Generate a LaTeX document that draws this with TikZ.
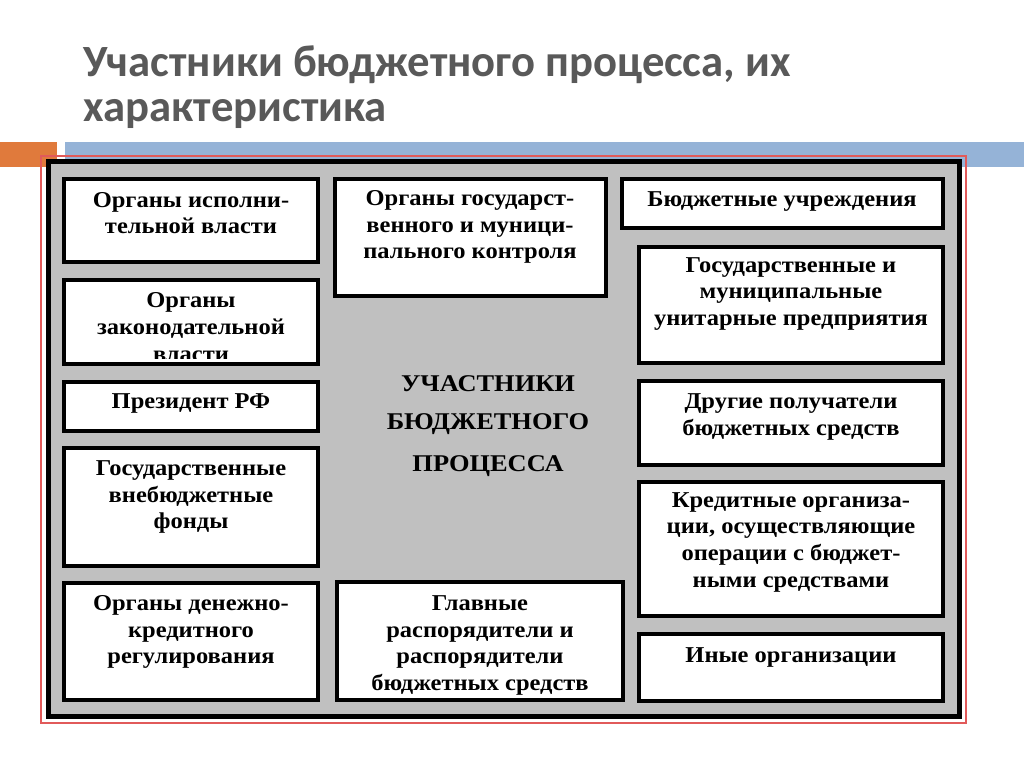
\documentclass[tikz,border=0pt]{standalone}
\usepackage{fontspec}
\setmainfont{Liberation Serif}
\newfontfamily\boxfont[FakeStretch=1.08]{Liberation Serif}
\newfontfamily\centerfont[FakeStretch=1.1]{Liberation Serif}
\newfontfamily\titlefont{Carlito}
\usetikzlibrary{fit}
\definecolor{slgray}{RGB}{192,192,192}
\definecolor{orangebar}{RGB}{224,122,60}
\definecolor{bluebar}{RGB}{149,179,215}
\definecolor{titlegray}{RGB}{89,89,89}
\definecolor{framered}{RGB}{225,90,90}
\begin{document}
\begin{tikzpicture}[x=0.75pt,y=-0.75pt,
  bx/.style={draw=black, line width=3pt, fill=white, inner sep=0pt},
  txt/.style={font=\boxfont\bfseries\fontsize{17}{20}\selectfont, align=center, inner sep=0pt},
  ctxt/.style={font=\centerfont\bfseries\fontsize{18}{20}\selectfont, inner sep=0pt},
  ttl/.style={font=\titlefont\bfseries\fontsize{33.5}{34}\selectfont, text=titlegray, inner sep=0pt, anchor=base west}]
\useasboundingbox (0,0) rectangle (1024,767);
\fill[white] (0,0) rectangle (1024,767);
% title
\node[ttl] (t1) at (83,77) {Участники бюджетного процесса, их};
\node[ttl] (t2) at (83,121) {характеристика};
% bars
\fill[orangebar] (0,142) rectangle (57,167);
\fill[bluebar] (65,142) rectangle (1024,167);
% frames
\draw[framered, line width=0.9pt] (41,156) rectangle (966,723);
\draw[black, fill=slgray, line width=3.4pt] (48.5,161.5) rectangle (959.5,716.5);
% boxes
\node[bx, fit={(64,179) (318,262)}] (b1) {};
\node[bx, fit={(64,280) (318,364)}] (b2) {};
\node[bx, fit={(64,382) (318,431)}] (b3) {};
\node[bx, fit={(64,448) (318,566)}] (b4) {};
\node[bx, fit={(64,583) (318,700)}] (b5) {};
\node[bx, fit={(335,179) (606,296)}] (b6) {};
\node[bx, fit={(337,582) (623,700)}] (b7) {};
\node[bx, fit={(622,179) (943,228)}] (b8) {};
\node[bx, fit={(639,247) (943,363)}] (b9) {};
\node[bx, fit={(639,381) (943,465)}] (b10) {};
\node[bx, fit={(639,482) (943,616)}] (b11) {};
\node[bx, fit={(639,634) (943,701)}] (b12) {};
% texts
\node[txt] (l1) at (191,213) {Органы исполни-\\тельной власти};
\begin{scope}
\clip (66,282) rectangle (316,358);
\node[txt] (l2) at (191,327) {Органы\\законодательной\\власти};
\end{scope}
\node[txt] (l3) at (191,403) {Президент РФ};
\node[txt] (l4) at (191,497) {Государственные\\внебюджетные\\фонды};
\node[txt] (l5) at (191,632) {Органы денежно-\\кредитного\\регулирования};
\node[txt] (l6) at (470,227) {Органы государст-\\венного и муници-\\пального контроля};
\node[txt] (l7) at (480,645.5) {Главные\\распорядители и\\распорядители\\бюджетных средств};
\node[txt] (l8) at (782,201.5) {Бюджетные учреждения};
\node[txt] (l9) at (791,294) {Государственные и\\муниципальные\\унитарные предприятия};
\node[txt] (l10) at (791,417) {Другие получатели\\бюджетных средств};
\node[txt] (l11) at (791,542) {Кредитные организа-\\ции, осуществляющие\\операции с бюджет-\\ными средствами};
\node[txt] (l12) at (791,657) {Иные организации};
\node[ctxt] (c1) at (488,384) {УЧАСТНИКИ};
\node[ctxt] (c2) at (488,424) {БЮДЖЕТНОГО};
\node[ctxt] (c3) at (488,466) {ПРОЦЕССА};
\end{tikzpicture}
\end{document}
